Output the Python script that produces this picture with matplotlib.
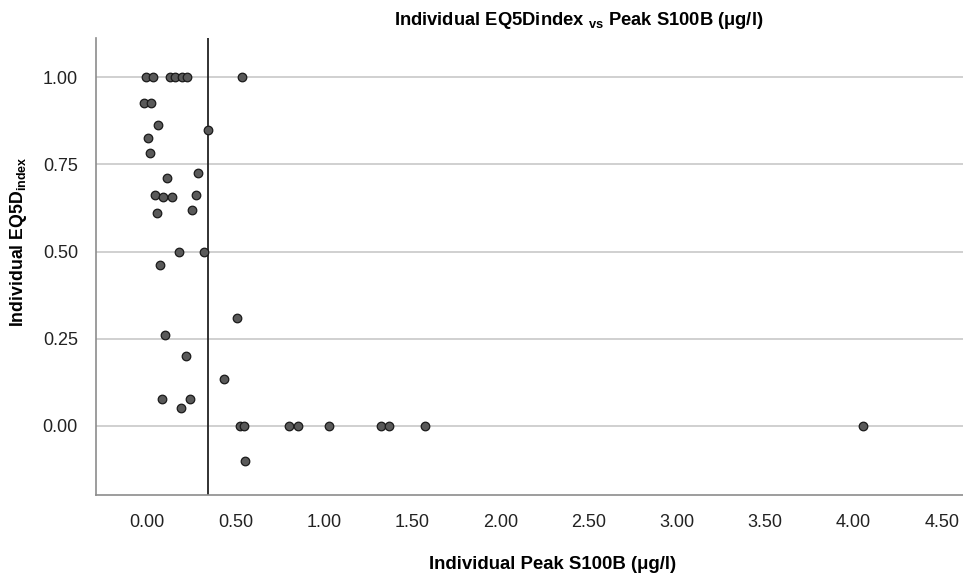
import matplotlib
matplotlib.use("Agg")
import matplotlib.pyplot as plt

plt.rcParams['font.family'] = ['Liberation Sans', 'DejaVu Sans']
plt.rcParams['mathtext.fontset'] = 'custom'
plt.rcParams['mathtext.rm'] = 'Liberation Sans:bold'
plt.rcParams['mathtext.bf'] = 'Liberation Sans:bold'
plt.rcParams['mathtext.it'] = 'Liberation Sans:bold:italic'

# Individual peak S100B (ug/l) and EQ5D index
s100b = [-0.007, 0.030, 0.130, 0.159, 0.197, 0.228, 0.537,
         -0.017, 0.023,
         0.062, 0.347, 0.002, 0.013, 0.289, 0.111,
         0.044, 0.092, 0.143, 0.279, 0.053, 0.251,
         0.179, 0.319, 0.070, 0.508, 0.102, 0.219, 0.436,
         0.083, 0.240, 0.191,
         0.525, 0.546, 0.803, 0.854, 1.031, 1.326, 1.367, 1.575, 4.051,
         0.555]
eq5d = [1.000, 1.000, 1.000, 1.000, 1.000, 1.000, 1.000,
        0.925, 0.925,
        0.864, 0.849, 0.826, 0.781, 0.724, 0.712,
        0.662, 0.657, 0.655, 0.663, 0.609, 0.619,
        0.499, 0.499, 0.461, 0.310, 0.262, 0.201, 0.134,
        0.077, 0.077, 0.052,
        0.0, 0.0, 0.0, 0.0, 0.0, 0.0, 0.0, 0.0, 0.0,
        -0.101]

cutoff = 0.345
xticks = [0.0, 0.5, 1.0, 1.5, 2.0, 2.5, 3.0, 3.5, 4.0, 4.5]
yticks = [0.0, 0.25, 0.5, 0.75, 1.0]

fig = plt.figure(figsize=(9.63, 5.78), dpi=100)
ax = fig.add_axes([0.0997, 0.1436, 0.9003, 0.7906])

ax.set_axisbelow(True)
ax.grid(axis='y', color='#c8c8c8', linewidth=1.2)
ax.scatter(s100b, eq5d, s=38, color='#595959', edgecolor='#1a1a1a',
           linewidth=0.9, zorder=3)
ax.axvline(cutoff, color='#222222', linewidth=1.3, zorder=2)

ax.set_xlim(-0.29, 4.62)
ax.set_ylim(-0.198, 1.112)
ax.set_xticks(xticks)
ax.set_xticklabels(['%.2f' % v for v in xticks])
ax.set_yticks(yticks)
ax.set_yticklabels(['%.2f' % v for v in yticks])
ax.tick_params(axis='both', length=0, labelsize=13, colors='#222222')
ax.tick_params(axis='x', pad=14)
ax.tick_params(axis='y', pad=13)

for side in ['top', 'right']:
    ax.spines[side].set_visible(False)
for side in ['left', 'bottom']:
    ax.spines[side].set_color('#8c8c8c')
    ax.spines[side].set_linewidth(1.2)

# axis titles and chart title placed in figure coordinates
fig.text(0.574, 0.023, 'Individual Peak S100B (μg/l)', ha='center', va='center',
         fontsize=13.4, fontweight='bold')
fig.text(0.0197, 0.581, r'Individual EQ5D$_{\mathrm{index}}$', ha='center',
         va='center', rotation=90, fontsize=12.8, fontweight='bold')
fig.text(0.601, 0.9637, r'Individual EQ5Dindex $_{\mathrm{vs}}$ Peak S100B (μg/l)',
         ha='center', va='center', fontsize=13.2, fontweight='bold')

fig.savefig('out.png', dpi=100)
